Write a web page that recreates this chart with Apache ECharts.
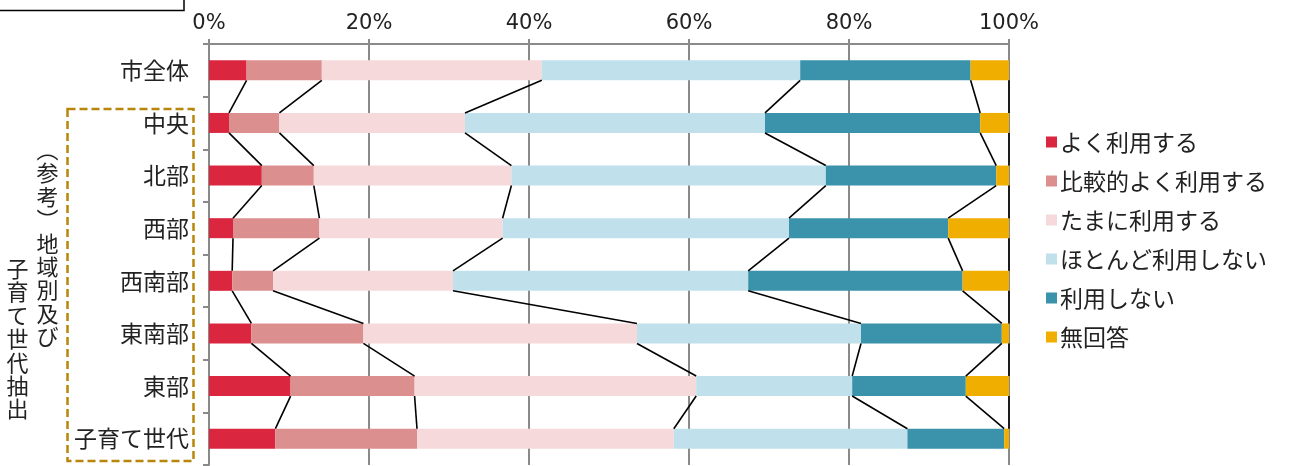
<!DOCTYPE html>
<html>
<head>
<meta charset="utf-8">
<script src="https://cdn.jsdelivr.net/npm/echarts@6/dist/echarts.min.js"></script>
<style>
  html, body { margin: 0; padding: 0; background: #fff; }
  #chart { width: 1290px; height: 466px; }
</style>
</head>
<body>
<div id="chart"></div>
<script>
// Categories (top to bottom) and the share of each answer, in percent
const categories = ['市全体', '中央', '北部', '西部', '西南部', '東南部', '東部', '子育て世代'];
const seriesNames = ['よく利用する', '比較的よく利用する', 'たまに利用する', 'ほとんど利用しない', '利用しない', '無回答'];
const oftenUse    = [4.7, 2.5, 6.6, 3.0, 2.9, 5.3, 10.2, 8.3];
const fairlyOften = [9.4, 6.3, 6.5, 10.8, 5.1, 14.0, 15.5, 17.7];
const sometimes   = [27.5, 23.2, 24.7, 22.9, 22.5, 34.2, 35.2, 32.1];
const rarely      = [32.3, 37.5, 39.3, 35.8, 36.9, 28.0, 19.5, 29.2];
const never       = [21.3, 26.9, 21.3, 19.9, 26.8, 17.6, 14.2, 12.1];
const noAnswer    = [4.8, 3.6, 1.6, 7.6, 5.8, 0.9, 5.4, 0.6];
const tickLabels  = ['0%', '20%', '40%', '60%', '80%', '100%'];

const seriesValues = [oftenUse, fairlyOften, sometimes, rarely, never, noAnswer];
const colors = ['#DB2640', '#DC8F8F', '#F5D9DB', '#C0E1EB', '#3A92AB', '#F0AE00'];

// running totals: right edge of each segment, used by the connector lines
const cumulative = seriesValues.map((_, k) =>
  categories.map((_, i) => {
    let s = 0;
    for (let j = 0; j <= k; j++) s += seriesValues[j][i];
    return s;
  })
);

const BAR = 20;
const cjk = '"Noto Sans CJK JP", "Noto Sans", sans-serif';

const chart = echarts.init(document.getElementById('chart'), null, { renderer: 'canvas' });

const barSeries = seriesNames.map((name, k) => ({
  name,
  type: 'bar',
  stack: 'total',
  barWidth: BAR,
  itemStyle: { color: colors[k] },
  emphasis: { disabled: true },
  data: seriesValues[k]
}));

// connector lines between consecutive bars
const connectorSeries = {
  type: 'custom',
  coordinateSystem: 'cartesian2d',
  z: 5,
  silent: true,
  encode: { x: 0, y: 1 },
  data: categories.slice(0, -1).map((_, i) => [0, i]),
  renderItem: function (params, api) {
    const i = api.value(1);
    const children = [];
    for (let k = 0; k < cumulative.length; k++) {
      const a = api.coord([cumulative[k][i], i]);
      const b = api.coord([cumulative[k][i + 1], i + 1]);
      children.push({
        type: 'line',
        shape: { x1: a[0], y1: a[1] + BAR / 2, x2: b[0], y2: b[1] - BAR / 2 },
        style: { stroke: '#000', lineWidth: 1.6 }
      });
    }
    return { type: 'group', children };
  }
};

chart.setOption({
  animation: false,
  backgroundColor: '#fff',
  grid: { left: 209, right: 281, top: 44, bottom: 1, containLabel: false },
  legend: {
    data: seriesNames,
    orient: 'vertical',
    left: 1041,
    top: 124,
    icon: 'rect',
    itemWidth: 11,
    itemHeight: 11,
    itemGap: 13,
    selectedMode: false,
    textStyle: { fontFamily: cjk, fontSize: 23, color: '#222', lineHeight: 26, padding: [0, 0, 0, -2] }
  },
  xAxis: {
    type: 'value',
    position: 'top',
    min: 0,
    max: 100,
    interval: 20,
    axisLine: { show: true, lineStyle: { color: '#8a8a8a', width: 2 } },
    axisTick: { show: true, length: 5, lineStyle: { color: '#8a8a8a', width: 2 } },
    splitLine: { show: true, lineStyle: { color: '#8a8a8a', width: 2 } },
    axisLabel: {
      margin: 10,
      fontFamily: '"DejaVu Sans", sans-serif',
      fontSize: 21,
      color: '#222',
      formatter: (v) => tickLabels[Math.round(v / 20)]
    }
  },
  yAxis: {
    type: 'category',
    inverse: true,
    data: categories,
    axisLine: { show: true, lineStyle: { color: '#8a8a8a', width: 2 } },
    axisTick: { show: true, length: 6, lineStyle: { color: '#8a8a8a', width: 2 } },
    axisLabel: { margin: 20, fontFamily: cjk, fontSize: 23, color: '#222' }
  },
  graphic: [
    // frame at the top-left corner
    {
      type: 'rect',
      shape: { x: -10, y: -10, width: 194, height: 20.5 },
      style: { fill: 'none', stroke: '#000', lineWidth: 1.5 }
    },
    // dashed frame around the district / child-rearing rows
    {
      type: 'rect',
      shape: { x: 67.5, y: 109, width: 126, height: 352 },
      style: { fill: 'none', stroke: '#B8860B', lineWidth: 2.5, lineDash: [8, 4] }
    },
    // vertical caption, right column then left column
    {
      type: 'text',
      x: 47.5,
      y: 138,
      style: {
        text: '︵参考︶地域別及び'.split('').join('\n'),
        font: '22px ' + cjk,
        fill: '#222',
        align: 'center',
        verticalAlign: 'top',
        lineHeight: 23.4
      }
    },
    {
      type: 'text',
      x: 17.5,
      y: 257,
      style: {
        text: '子育て世代抽出'.split('').join('\n'),
        font: '22px ' + cjk,
        fill: '#222',
        align: 'center',
        verticalAlign: 'top',
        lineHeight: 23.4
      }
    }
  ],
  series: barSeries.concat([connectorSeries])
});
</script>
</body>
</html>
